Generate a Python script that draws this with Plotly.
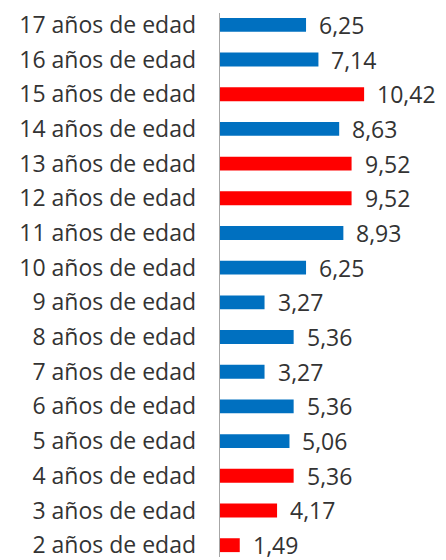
import plotly.graph_objects as go

categories = [f"{a} años de edad" for a in range(2, 18)]
values = [1.49, 4.17, 5.36, 5.06, 5.36, 3.27, 5.36, 3.27, 6.25, 8.93, 9.52, 9.52, 8.63, 10.42, 7.14, 6.25]
highlight = [True, True, True, False, False, False, False, False, False, False, True, True, False, True, False, False]

BLUE = "#0070C0"
RED = "#FF0000"
colors = [RED if h else BLUE for h in highlight]
labels = [f"{v:.2f}".replace(".", ",") for v in values]
FONT = "Open Sans"

fig = go.Figure()
fig.add_trace(go.Bar(
    y=categories, x=values, orientation="h",
    marker=dict(color=colors, line=dict(width=0)),
    width=0.4, hoverinfo="skip",
))
for c, v, t in zip(categories, values, labels):
    fig.add_annotation(x=v, y=c, text=t, showarrow=False, xanchor="left",
                       xshift=11,
                       font=dict(family=FONT, size=23, color="#333333"))

fig.add_shape(type="line", xref="x", yref="paper", x0=0, x1=0, y0=0, y1=1,
              line=dict(color="#A6A6A6", width=2))

fig.update_layout(
    width=438, height=552,
    margin=dict(l=211, r=0, t=0, b=0),
    paper_bgcolor="white", plot_bgcolor="white",
    showlegend=False,
    xaxis=dict(range=[0, 16.3], visible=False, fixedrange=True),
    yaxis=dict(type="category", range=[-12 / 35.2, 15 + 12 / 35.2], showgrid=False, zeroline=False,
               showline=False, ticks="", ticklabelstandoff=22,
               tickfont=dict(family=FONT, size=23, color="#333333")),
)
fig.write_html("out.html")
